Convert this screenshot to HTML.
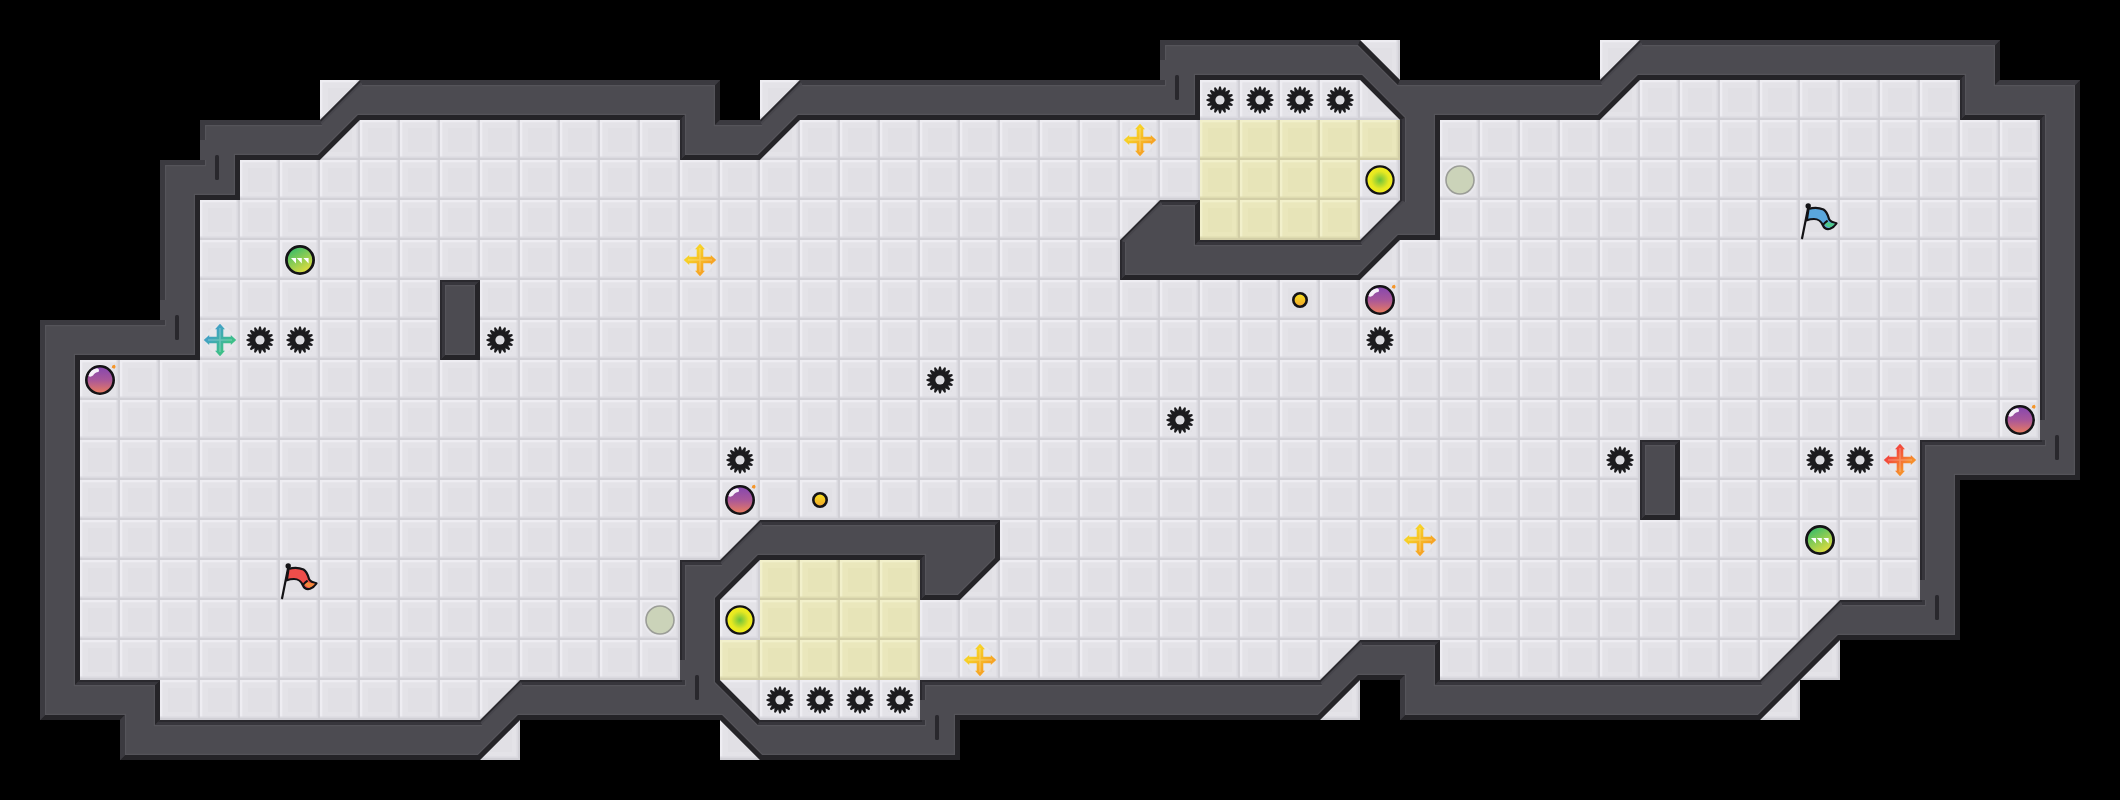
<!DOCTYPE html><html><head><meta charset="utf-8"><style>html,body{margin:0;padding:0;background:#000;overflow:hidden}svg{display:block}</style></head><body>
<svg width="2120" height="800" viewBox="0 0 2120 800">
<defs>
<pattern id="tile" patternUnits="userSpaceOnUse" x="0" y="0" width="40" height="40"><rect width="40" height="40" fill="#e1e0e5"/><rect x="3" y="3" width="34" height="34" fill="#e4e3e8"/><rect x="8" y="8" width="24" height="24" fill="#e1e0e5"/><rect x="0" y="0" width="40" height="2.5" fill="#eeedf2"/><rect x="0" y="0" width="2.5" height="40" fill="#eeedf2"/><rect x="0" y="36.5" width="40" height="1.5" fill="#dbdae0"/><rect x="36.5" y="0" width="1.5" height="40" fill="#dbdae0"/><rect x="0" y="38" width="40" height="2" fill="#d1d0d6"/><rect x="38" y="0" width="2" height="40" fill="#d1d0d6"/></pattern>
<pattern id="ytile" patternUnits="userSpaceOnUse" x="0" y="0" width="40" height="40"><rect width="40" height="40" fill="#e7e4b8"/><rect x="3" y="3" width="34" height="34" fill="#eae7bc"/><rect x="8" y="8" width="24" height="24" fill="#e7e4b8"/><rect x="0" y="0" width="40" height="2.5" fill="#f2f0cb"/><rect x="0" y="0" width="2.5" height="40" fill="#f2f0cb"/><rect x="0" y="36.5" width="40" height="1.5" fill="#dedbb0"/><rect x="36.5" y="0" width="1.5" height="40" fill="#dedbb0"/><rect x="0" y="38" width="40" height="2" fill="#d2cea6"/><rect x="38" y="0" width="2" height="40" fill="#d2cea6"/></pattern>
<clipPath id="oc"><path d="M40,320 L160,320 L160,160 L200,160 L200,120 L320,120 L360,80 L720,80 L720,120 L760,120 L800,80 L1160,80 L1160,40 L1360,40 L1400,80 L1600,80 L1640,40 L2000,40 L2000,80 L2080,80 L2080,480 L1960,480 L1960,640 L1840,640 L1760,720 L1400,720 L1400,680 L1360,680 L1320,720 L960,720 L960,760 L760,760 L720,720 L520,720 L480,760 L120,760 L120,720 L40,720Z"/></clipPath>
<linearGradient id="gb" x1="0" y1="0" x2="0" y2="1"><stop offset="0" stop-color="#8447b0"/><stop offset="0.5" stop-color="#a9579a"/><stop offset="1" stop-color="#ec7d5c"/></linearGradient>
<linearGradient id="gg" x1="0.2" y1="0" x2="0.8" y2="1"><stop offset="0" stop-color="#2fba6c"/><stop offset="1" stop-color="#f0e03a"/></linearGradient>
<radialGradient id="gt"><stop offset="0" stop-color="#6cc23c"/><stop offset="0.65" stop-color="#e6e822"/><stop offset="1" stop-color="#f4ef1c"/></radialGradient>
<linearGradient id="gc" x1="0" y1="0" x2="0" y2="1"><stop offset="0" stop-color="#f6e21c"/><stop offset="1" stop-color="#f3a52e"/></linearGradient>
<linearGradient id="at" x1="0" y1="0" x2="1" y2="1"><stop offset="0.3" stop-color="#42a2c2"/><stop offset="0.7" stop-color="#3dbf88"/></linearGradient>
<linearGradient id="ay" x1="0" y1="0" x2="1" y2="1"><stop offset="0.3" stop-color="#f7d126"/><stop offset="0.7" stop-color="#f6a526"/></linearGradient>
<linearGradient id="ao" x1="0" y1="0" x2="1" y2="1"><stop offset="0.3" stop-color="#f2493c"/><stop offset="0.7" stop-color="#f68f2c"/></linearGradient>
<path id="gear" d="M-1.91,-9.61 L-0.82,-13.58 L0.82,-13.58 L1.91,-9.61 L4.44,-12.85 L5.95,-12.23 L5.44,-8.15 L9.02,-10.18 L10.18,-9.02 L8.15,-5.44 L12.23,-5.95 L12.85,-4.44 L9.61,-1.91 L13.58,-0.82 L13.58,0.82 L9.61,1.91 L12.85,4.44 L12.23,5.95 L8.15,5.44 L10.18,9.02 L9.02,10.18 L5.44,8.15 L5.95,12.23 L4.44,12.85 L1.91,9.61 L0.82,13.58 L-0.82,13.58 L-1.91,9.61 L-4.44,12.85 L-5.95,12.23 L-5.44,8.15 L-9.02,10.18 L-10.18,9.02 L-8.15,5.44 L-12.23,5.95 L-12.85,4.44 L-9.61,1.91 L-13.58,0.82 L-13.58,-0.82 L-9.61,-1.91 L-12.85,-4.44 L-12.23,-5.95 L-8.15,-5.44 L-10.18,-9.02 L-9.02,-10.18 L-5.44,-8.15 L-5.95,-12.23 L-4.44,-12.85Z"/>
<path id="arr" d="M0,-16.2 L5,-10.8 L3.3,-10.8 L3.3,-3.3 L10.8,-3.3 L10.8,-5 L16.2,0 L10.8,5 L10.8,3.3 L3.3,3.3 L3.3,10.8 L5,10.8 L0,16.2 L-5,10.8 L-3.3,10.8 L-3.3,3.3 L-10.8,3.3 L-10.8,5 L-16.2,0 L-10.8,-5 L-10.8,-3.3 L-3.3,-3.3 L-3.3,-10.8 L-5,-10.8 Z"/>
</defs>
<rect width="2120" height="800" fill="#000"/>
<rect x="320" y="80" width="40" height="40" fill="url(#tile)"/>
<rect x="760" y="80" width="40" height="40" fill="url(#tile)"/>
<rect x="1360" y="40" width="40" height="40" fill="url(#tile)"/>
<rect x="1600" y="40" width="40" height="40" fill="url(#tile)"/>
<rect x="1800" y="640" width="40" height="40" fill="url(#tile)"/>
<rect x="1760" y="680" width="40" height="40" fill="url(#tile)"/>
<rect x="1320" y="680" width="40" height="40" fill="url(#tile)"/>
<rect x="720" y="720" width="40" height="40" fill="url(#tile)"/>
<rect x="480" y="720" width="40" height="40" fill="url(#tile)"/>
<path d="M40,320 L160,320 L160,160 L200,160 L200,120 L320,120 L360,80 L720,80 L720,120 L760,120 L800,80 L1160,80 L1160,40 L1360,40 L1400,80 L1600,80 L1640,40 L2000,40 L2000,80 L2080,80 L2080,480 L1960,480 L1960,640 L1840,640 L1760,720 L1400,720 L1400,680 L1360,680 L1320,720 L960,720 L960,760 L760,760 L720,720 L520,720 L480,760 L120,760 L120,720 L40,720Z" fill="#4c4b51"/>
<clipPath id="wc"><path d="M40,320 L160,320 L160,160 L200,160 L200,120 L320,120 L360,80 L720,80 L720,120 L760,120 L800,80 L1160,80 L1160,40 L1360,40 L1400,80 L1600,80 L1640,40 L2000,40 L2000,80 L2080,80 L2080,480 L1960,480 L1960,640 L1840,640 L1760,720 L1400,720 L1400,680 L1360,680 L1320,720 L960,720 L960,760 L760,760 L720,720 L520,720 L480,760 L120,760 L120,720 L40,720ZM80,360 L200,360 L200,200 L240,200 L240,160 L320,160 L360,120 L680,120 L680,160 L760,160 L800,120 L1200,120 L1200,80 L1360,80 L1400,120 L1400,200 L1360,240 L1200,240 L1200,200 L1160,200 L1120,240 L1120,280 L1360,280 L1400,240 L1440,240 L1440,120 L1600,120 L1640,80 L1960,80 L1960,120 L2040,120 L2040,440 L1920,440 L1920,600 L1840,600 L1760,680 L1440,680 L1440,640 L1360,640 L1320,680 L920,680 L920,720 L760,720 L720,680 L720,600 L760,560 L920,560 L920,600 L960,600 L1000,560 L1000,520 L760,520 L720,560 L680,560 L680,680 L520,680 L480,720 L160,720 L160,680 L80,680ZM440,280 h40 v80 h-40 ZM1640,440 h40 v80 h-40 Z" clip-rule="evenodd"/></clipPath>
<g clip-path="url(#wc)" stroke="none">
<path d="M40.00,320.00 L160.00,320.00 L166.20,326.20 L46.20,326.20 Z M160.00,320.00 L160.00,160.00 L166.20,166.20 L166.20,326.20 Z M160.00,160.00 L200.00,160.00 L206.20,166.20 L166.20,166.20 Z M200.00,160.00 L200.00,120.00 L206.20,126.20 L206.20,166.20 Z M200.00,120.00 L320.00,120.00 L322.57,126.20 L206.20,126.20 Z M360.00,80.00 L720.00,80.00 L713.80,86.20 L362.57,86.20 Z M720.00,80.00 L720.00,120.00 L713.80,126.20 L713.80,86.20 Z M720.00,120.00 L760.00,120.00 L762.57,126.20 L713.80,126.20 Z M800.00,80.00 L1160.00,80.00 L1166.20,86.20 L802.57,86.20 Z M1160.00,80.00 L1160.00,40.00 L1166.20,46.20 L1166.20,86.20 Z M1160.00,40.00 L1360.00,40.00 L1357.43,46.20 L1166.20,46.20 Z M1360.00,40.00 L1400.00,80.00 L1397.43,86.20 L1357.43,46.20 Z M1400.00,80.00 L1600.00,80.00 L1602.57,86.20 L1397.43,86.20 Z M1640.00,40.00 L2000.00,40.00 L1993.80,46.20 L1642.57,46.20 Z M2000.00,40.00 L2000.00,80.00 L1993.80,86.20 L1993.80,46.20 Z M2000.00,80.00 L2080.00,80.00 L2073.80,86.20 L1993.80,86.20 Z M2080.00,80.00 L2080.00,480.00 L2073.80,473.80 L2073.80,86.20 Z M2080.00,480.00 L1960.00,480.00 L1953.80,473.80 L2073.80,473.80 Z M1960.00,480.00 L1960.00,640.00 L1953.80,633.80 L1953.80,473.80 Z M1960.00,640.00 L1840.00,640.00 L1837.43,633.80 L1953.80,633.80 Z M1840.00,640.00 L1760.00,720.00 L1757.43,713.80 L1837.43,633.80 Z M1760.00,720.00 L1400.00,720.00 L1406.20,713.80 L1757.43,713.80 Z M1400.00,720.00 L1400.00,680.00 L1406.20,673.80 L1406.20,713.80 Z M1400.00,680.00 L1360.00,680.00 L1357.43,673.80 L1406.20,673.80 Z M1360.00,680.00 L1320.00,720.00 L1317.43,713.80 L1357.43,673.80 Z M1320.00,720.00 L960.00,720.00 L953.80,713.80 L1317.43,713.80 Z M960.00,720.00 L960.00,760.00 L953.80,753.80 L953.80,713.80 Z M960.00,760.00 L760.00,760.00 L762.57,753.80 L953.80,753.80 Z M760.00,760.00 L720.00,720.00 L722.57,713.80 L762.57,753.80 Z M720.00,720.00 L520.00,720.00 L517.43,713.80 L722.57,713.80 Z M520.00,720.00 L480.00,760.00 L477.43,753.80 L517.43,713.80 Z M480.00,760.00 L120.00,760.00 L126.20,753.80 L477.43,753.80 Z M120.00,760.00 L120.00,720.00 L126.20,713.80 L126.20,753.80 Z M120.00,720.00 L40.00,720.00 L46.20,713.80 L126.20,713.80 Z M40.00,720.00 L40.00,320.00 L46.20,326.20 L46.20,713.80 Z M80.00,360.00 L200.00,360.00 L193.80,353.80 L73.80,353.80 Z M200.00,360.00 L200.00,200.00 L193.80,193.80 L193.80,353.80 Z M200.00,200.00 L240.00,200.00 L233.80,193.80 L193.80,193.80 Z M240.00,200.00 L240.00,160.00 L233.80,153.80 L233.80,193.80 Z M240.00,160.00 L320.00,160.00 L317.43,153.80 L233.80,153.80 Z M320.00,160.00 L360.00,120.00 L357.43,113.80 L317.43,153.80 Z M360.00,120.00 L680.00,120.00 L686.20,113.80 L357.43,113.80 Z M680.00,120.00 L680.00,160.00 L686.20,153.80 L686.20,113.80 Z M680.00,160.00 L760.00,160.00 L757.43,153.80 L686.20,153.80 Z M760.00,160.00 L800.00,120.00 L797.43,113.80 L757.43,153.80 Z M800.00,120.00 L1200.00,120.00 L1193.80,113.80 L797.43,113.80 Z M1200.00,120.00 L1200.00,80.00 L1193.80,73.80 L1193.80,113.80 Z M1200.00,80.00 L1360.00,80.00 L1362.57,73.80 L1193.80,73.80 Z M1360.00,80.00 L1400.00,120.00 L1406.20,117.43 L1362.57,73.80 Z M1400.00,120.00 L1400.00,200.00 L1406.20,202.57 L1406.20,117.43 Z M1360.00,240.00 L1200.00,240.00 L1193.80,246.20 L1362.57,246.20 Z M1200.00,240.00 L1200.00,200.00 L1193.80,206.20 L1193.80,246.20 Z M1200.00,200.00 L1160.00,200.00 L1162.57,206.20 L1193.80,206.20 Z M1120.00,240.00 L1120.00,280.00 L1126.20,273.80 L1126.20,242.57 Z M1120.00,280.00 L1360.00,280.00 L1357.43,273.80 L1126.20,273.80 Z M1360.00,280.00 L1400.00,240.00 L1397.43,233.80 L1357.43,273.80 Z M1400.00,240.00 L1440.00,240.00 L1433.80,233.80 L1397.43,233.80 Z M1440.00,240.00 L1440.00,120.00 L1433.80,113.80 L1433.80,233.80 Z M1440.00,120.00 L1600.00,120.00 L1597.43,113.80 L1433.80,113.80 Z M1600.00,120.00 L1640.00,80.00 L1637.43,73.80 L1597.43,113.80 Z M1640.00,80.00 L1960.00,80.00 L1966.20,73.80 L1637.43,73.80 Z M1960.00,80.00 L1960.00,120.00 L1966.20,113.80 L1966.20,73.80 Z M1960.00,120.00 L2040.00,120.00 L2046.20,113.80 L1966.20,113.80 Z M2040.00,120.00 L2040.00,440.00 L2046.20,446.20 L2046.20,113.80 Z M2040.00,440.00 L1920.00,440.00 L1926.20,446.20 L2046.20,446.20 Z M1920.00,440.00 L1920.00,600.00 L1926.20,606.20 L1926.20,446.20 Z M1920.00,600.00 L1840.00,600.00 L1842.57,606.20 L1926.20,606.20 Z M1760.00,680.00 L1440.00,680.00 L1433.80,686.20 L1762.57,686.20 Z M1440.00,680.00 L1440.00,640.00 L1433.80,646.20 L1433.80,686.20 Z M1440.00,640.00 L1360.00,640.00 L1362.57,646.20 L1433.80,646.20 Z M1320.00,680.00 L920.00,680.00 L926.20,686.20 L1322.57,686.20 Z M920.00,680.00 L920.00,720.00 L926.20,726.20 L926.20,686.20 Z M920.00,720.00 L760.00,720.00 L757.43,726.20 L926.20,726.20 Z M760.00,720.00 L720.00,680.00 L713.80,682.57 L757.43,726.20 Z M720.00,680.00 L720.00,600.00 L713.80,597.43 L713.80,682.57 Z M720.00,600.00 L760.00,560.00 L757.43,553.80 L713.80,597.43 Z M760.00,560.00 L920.00,560.00 L926.20,553.80 L757.43,553.80 Z M920.00,560.00 L920.00,600.00 L926.20,593.80 L926.20,553.80 Z M920.00,600.00 L960.00,600.00 L957.43,593.80 L926.20,593.80 Z M960.00,600.00 L1000.00,560.00 L993.80,557.43 L957.43,593.80 Z M1000.00,560.00 L1000.00,520.00 L993.80,526.20 L993.80,557.43 Z M1000.00,520.00 L760.00,520.00 L762.57,526.20 L993.80,526.20 Z M720.00,560.00 L680.00,560.00 L686.20,566.20 L722.57,566.20 Z M680.00,560.00 L680.00,680.00 L686.20,686.20 L686.20,566.20 Z M680.00,680.00 L520.00,680.00 L522.57,686.20 L686.20,686.20 Z M480.00,720.00 L160.00,720.00 L153.80,726.20 L482.57,726.20 Z M160.00,720.00 L160.00,680.00 L153.80,686.20 L153.80,726.20 Z M160.00,680.00 L80.00,680.00 L73.80,686.20 L153.80,686.20 Z M80.00,680.00 L80.00,360.00 L73.80,353.80 L73.80,686.20 Z M440.00,280.00 L480.00,280.00 L473.80,286.20 L446.20,286.20 Z M480.00,280.00 L480.00,360.00 L473.80,353.80 L473.80,286.20 Z M480.00,360.00 L440.00,360.00 L446.20,353.80 L473.80,353.80 Z M440.00,360.00 L440.00,280.00 L446.20,286.20 L446.20,353.80 Z M1640.00,440.00 L1680.00,440.00 L1673.80,446.20 L1646.20,446.20 Z M1680.00,440.00 L1680.00,520.00 L1673.80,513.80 L1673.80,446.20 Z M1680.00,520.00 L1640.00,520.00 L1646.20,513.80 L1673.80,513.80 Z M1640.00,520.00 L1640.00,440.00 L1646.20,446.20 L1646.20,513.80 Z" fill="#55545a"/>
<path d="M40.00,320.00 L160.00,320.00 L165.00,325.00 L45.00,325.00 Z M160.00,320.00 L160.00,160.00 L165.00,165.00 L165.00,325.00 Z M160.00,160.00 L200.00,160.00 L205.00,165.00 L165.00,165.00 Z M200.00,160.00 L200.00,120.00 L205.00,125.00 L205.00,165.00 Z M200.00,120.00 L320.00,120.00 L322.07,125.00 L205.00,125.00 Z M360.00,80.00 L720.00,80.00 L715.00,85.00 L362.07,85.00 Z M720.00,120.00 L760.00,120.00 L762.07,125.00 L715.00,125.00 Z M800.00,80.00 L1160.00,80.00 L1165.00,85.00 L802.07,85.00 Z M1160.00,80.00 L1160.00,40.00 L1165.00,45.00 L1165.00,85.00 Z M1160.00,40.00 L1360.00,40.00 L1357.93,45.00 L1165.00,45.00 Z M1400.00,80.00 L1600.00,80.00 L1602.07,85.00 L1397.93,85.00 Z M1640.00,40.00 L2000.00,40.00 L1995.00,45.00 L1642.07,45.00 Z M2000.00,80.00 L2080.00,80.00 L2075.00,85.00 L1995.00,85.00 Z M1400.00,720.00 L1400.00,680.00 L1405.00,675.00 L1405.00,715.00 Z M120.00,760.00 L120.00,720.00 L125.00,715.00 L125.00,755.00 Z M40.00,720.00 L40.00,320.00 L45.00,325.00 L45.00,715.00 Z" fill="#3b3a40"/>
<path d="M680.00,120.00 L680.00,160.00 L685.00,155.00 L685.00,115.00 Z M1400.00,120.00 L1400.00,200.00 L1405.00,202.07 L1405.00,117.93 Z M1360.00,240.00 L1200.00,240.00 L1195.00,245.00 L1362.07,245.00 Z M1200.00,200.00 L1160.00,200.00 L1162.07,205.00 L1195.00,205.00 Z M1120.00,240.00 L1120.00,280.00 L1125.00,275.00 L1125.00,242.07 Z M1960.00,80.00 L1960.00,120.00 L1965.00,115.00 L1965.00,75.00 Z M2040.00,120.00 L2040.00,440.00 L2045.00,445.00 L2045.00,115.00 Z M2040.00,440.00 L1920.00,440.00 L1925.00,445.00 L2045.00,445.00 Z M1920.00,440.00 L1920.00,600.00 L1925.00,605.00 L1925.00,445.00 Z M1920.00,600.00 L1840.00,600.00 L1842.07,605.00 L1925.00,605.00 Z M1760.00,680.00 L1440.00,680.00 L1435.00,685.00 L1762.07,685.00 Z M1440.00,640.00 L1360.00,640.00 L1362.07,645.00 L1435.00,645.00 Z M1320.00,680.00 L920.00,680.00 L925.00,685.00 L1322.07,685.00 Z M920.00,680.00 L920.00,720.00 L925.00,725.00 L925.00,685.00 Z M920.00,720.00 L760.00,720.00 L757.93,725.00 L925.00,725.00 Z M920.00,560.00 L920.00,600.00 L925.00,595.00 L925.00,555.00 Z M1000.00,520.00 L760.00,520.00 L762.07,525.00 L995.00,525.00 Z M720.00,560.00 L680.00,560.00 L685.00,565.00 L722.07,565.00 Z M680.00,560.00 L680.00,680.00 L685.00,685.00 L685.00,565.00 Z M680.00,680.00 L520.00,680.00 L522.07,685.00 L685.00,685.00 Z M480.00,720.00 L160.00,720.00 L155.00,725.00 L482.07,725.00 Z M160.00,680.00 L80.00,680.00 L75.00,685.00 L155.00,685.00 Z M440.00,280.00 L480.00,280.00 L475.00,285.00 L445.00,285.00 Z M440.00,360.00 L440.00,280.00 L445.00,285.00 L445.00,355.00 Z M1640.00,440.00 L1680.00,440.00 L1675.00,445.00 L1645.00,445.00 Z M1640.00,520.00 L1640.00,440.00 L1645.00,445.00 L1645.00,515.00 Z" fill="#37363c"/>
<path d="M320.00,120.00 L360.00,80.00 L361.66,84.00 L321.66,124.00 Z M760.00,120.00 L800.00,80.00 L801.66,84.00 L761.66,124.00 Z M1600.00,80.00 L1640.00,40.00 L1641.66,44.00 L1601.66,84.00 Z M1400.00,200.00 L1360.00,240.00 L1361.66,244.00 L1404.00,201.66 Z M1160.00,200.00 L1120.00,240.00 L1124.00,241.66 L1161.66,204.00 Z M1840.00,600.00 L1760.00,680.00 L1761.66,684.00 L1841.66,604.00 Z M1360.00,640.00 L1320.00,680.00 L1321.66,684.00 L1361.66,644.00 Z M760.00,520.00 L720.00,560.00 L721.66,564.00 L761.66,524.00 Z M520.00,680.00 L480.00,720.00 L481.66,724.00 L521.66,684.00 Z" fill="#46454b"/>
<path d="M320.00,120.00 L360.00,80.00 L360.83,82.00 L320.83,122.00 Z M760.00,120.00 L800.00,80.00 L800.83,82.00 L760.83,122.00 Z M1600.00,80.00 L1640.00,40.00 L1640.83,42.00 L1600.83,82.00 Z M680.00,120.00 L680.00,160.00 L682.00,158.00 L682.00,118.00 Z M1400.00,120.00 L1400.00,200.00 L1402.00,200.83 L1402.00,119.17 Z M1400.00,200.00 L1360.00,240.00 L1360.83,242.00 L1402.00,200.83 Z M1360.00,240.00 L1200.00,240.00 L1198.00,242.00 L1360.83,242.00 Z M1200.00,200.00 L1160.00,200.00 L1160.83,202.00 L1198.00,202.00 Z M1160.00,200.00 L1120.00,240.00 L1122.00,240.83 L1160.83,202.00 Z M1120.00,240.00 L1120.00,280.00 L1122.00,278.00 L1122.00,240.83 Z M1960.00,80.00 L1960.00,120.00 L1962.00,118.00 L1962.00,78.00 Z M2040.00,120.00 L2040.00,440.00 L2042.00,442.00 L2042.00,118.00 Z M2040.00,440.00 L1920.00,440.00 L1922.00,442.00 L2042.00,442.00 Z M1920.00,440.00 L1920.00,600.00 L1922.00,602.00 L1922.00,442.00 Z M1920.00,600.00 L1840.00,600.00 L1840.83,602.00 L1922.00,602.00 Z M1840.00,600.00 L1760.00,680.00 L1760.83,682.00 L1840.83,602.00 Z M1760.00,680.00 L1440.00,680.00 L1438.00,682.00 L1760.83,682.00 Z M1440.00,640.00 L1360.00,640.00 L1360.83,642.00 L1438.00,642.00 Z M1360.00,640.00 L1320.00,680.00 L1320.83,682.00 L1360.83,642.00 Z M1320.00,680.00 L920.00,680.00 L922.00,682.00 L1320.83,682.00 Z M920.00,680.00 L920.00,720.00 L922.00,722.00 L922.00,682.00 Z M920.00,720.00 L760.00,720.00 L759.17,722.00 L922.00,722.00 Z M920.00,560.00 L920.00,600.00 L922.00,598.00 L922.00,558.00 Z M1000.00,520.00 L760.00,520.00 L760.83,522.00 L998.00,522.00 Z M760.00,520.00 L720.00,560.00 L720.83,562.00 L760.83,522.00 Z M720.00,560.00 L680.00,560.00 L682.00,562.00 L720.83,562.00 Z M680.00,560.00 L680.00,680.00 L682.00,682.00 L682.00,562.00 Z M680.00,680.00 L520.00,680.00 L520.83,682.00 L682.00,682.00 Z M520.00,680.00 L480.00,720.00 L480.83,722.00 L520.83,682.00 Z M480.00,720.00 L160.00,720.00 L158.00,722.00 L480.83,722.00 Z M160.00,680.00 L80.00,680.00 L78.00,682.00 L158.00,682.00 Z M440.00,280.00 L480.00,280.00 L478.00,282.00 L442.00,282.00 Z M440.00,360.00 L440.00,280.00 L442.00,282.00 L442.00,358.00 Z M1640.00,440.00 L1680.00,440.00 L1678.00,442.00 L1642.00,442.00 Z M1640.00,520.00 L1640.00,440.00 L1642.00,442.00 L1642.00,518.00 Z" fill="#2a292e"/>
<path d="M720.00,80.00 L720.00,120.00 L715.00,125.00 L715.00,85.00 Z M1360.00,40.00 L1400.00,80.00 L1397.93,85.00 L1357.93,45.00 Z M2000.00,40.00 L2000.00,80.00 L1995.00,85.00 L1995.00,45.00 Z M2080.00,80.00 L2080.00,480.00 L2075.00,475.00 L2075.00,85.00 Z M2080.00,480.00 L1960.00,480.00 L1955.00,475.00 L2075.00,475.00 Z M1960.00,480.00 L1960.00,640.00 L1955.00,635.00 L1955.00,475.00 Z M1960.00,640.00 L1840.00,640.00 L1837.93,635.00 L1955.00,635.00 Z M1840.00,640.00 L1760.00,720.00 L1757.93,715.00 L1837.93,635.00 Z M1760.00,720.00 L1400.00,720.00 L1405.00,715.00 L1757.93,715.00 Z M1400.00,680.00 L1360.00,680.00 L1357.93,675.00 L1405.00,675.00 Z M1360.00,680.00 L1320.00,720.00 L1317.93,715.00 L1357.93,675.00 Z M1320.00,720.00 L960.00,720.00 L955.00,715.00 L1317.93,715.00 Z M960.00,720.00 L960.00,760.00 L955.00,755.00 L955.00,715.00 Z M960.00,760.00 L760.00,760.00 L762.07,755.00 L955.00,755.00 Z M760.00,760.00 L720.00,720.00 L722.07,715.00 L762.07,755.00 Z M720.00,720.00 L520.00,720.00 L517.93,715.00 L722.07,715.00 Z M520.00,720.00 L480.00,760.00 L477.93,755.00 L517.93,715.00 Z M480.00,760.00 L120.00,760.00 L125.00,755.00 L477.93,755.00 Z M120.00,720.00 L40.00,720.00 L45.00,715.00 L125.00,715.00 Z M80.00,360.00 L200.00,360.00 L195.00,355.00 L75.00,355.00 Z M200.00,360.00 L200.00,200.00 L195.00,195.00 L195.00,355.00 Z M200.00,200.00 L240.00,200.00 L235.00,195.00 L195.00,195.00 Z M240.00,200.00 L240.00,160.00 L235.00,155.00 L235.00,195.00 Z M240.00,160.00 L320.00,160.00 L317.93,155.00 L235.00,155.00 Z M320.00,160.00 L360.00,120.00 L357.93,115.00 L317.93,155.00 Z M360.00,120.00 L680.00,120.00 L685.00,115.00 L357.93,115.00 Z M680.00,160.00 L760.00,160.00 L757.93,155.00 L685.00,155.00 Z M760.00,160.00 L800.00,120.00 L797.93,115.00 L757.93,155.00 Z M800.00,120.00 L1200.00,120.00 L1195.00,115.00 L797.93,115.00 Z M1200.00,120.00 L1200.00,80.00 L1195.00,75.00 L1195.00,115.00 Z M1200.00,80.00 L1360.00,80.00 L1362.07,75.00 L1195.00,75.00 Z M1360.00,80.00 L1400.00,120.00 L1405.00,117.93 L1362.07,75.00 Z M1200.00,240.00 L1200.00,200.00 L1195.00,205.00 L1195.00,245.00 Z M1120.00,280.00 L1360.00,280.00 L1357.93,275.00 L1125.00,275.00 Z M1360.00,280.00 L1400.00,240.00 L1397.93,235.00 L1357.93,275.00 Z M1400.00,240.00 L1440.00,240.00 L1435.00,235.00 L1397.93,235.00 Z M1440.00,240.00 L1440.00,120.00 L1435.00,115.00 L1435.00,235.00 Z M1440.00,120.00 L1600.00,120.00 L1597.93,115.00 L1435.00,115.00 Z M1600.00,120.00 L1640.00,80.00 L1637.93,75.00 L1597.93,115.00 Z M1640.00,80.00 L1960.00,80.00 L1965.00,75.00 L1637.93,75.00 Z M1960.00,120.00 L2040.00,120.00 L2045.00,115.00 L1965.00,115.00 Z M1440.00,680.00 L1440.00,640.00 L1435.00,645.00 L1435.00,685.00 Z M760.00,720.00 L720.00,680.00 L715.00,682.07 L757.93,725.00 Z M720.00,680.00 L720.00,600.00 L715.00,597.93 L715.00,682.07 Z M720.00,600.00 L760.00,560.00 L757.93,555.00 L715.00,597.93 Z M760.00,560.00 L920.00,560.00 L925.00,555.00 L757.93,555.00 Z M920.00,600.00 L960.00,600.00 L957.93,595.00 L925.00,595.00 Z M960.00,600.00 L1000.00,560.00 L995.00,557.93 L957.93,595.00 Z M1000.00,560.00 L1000.00,520.00 L995.00,525.00 L995.00,557.93 Z M160.00,720.00 L160.00,680.00 L155.00,685.00 L155.00,725.00 Z M80.00,680.00 L80.00,360.00 L75.00,355.00 L75.00,685.00 Z M480.00,280.00 L480.00,360.00 L475.00,355.00 L475.00,285.00 Z M480.00,360.00 L440.00,360.00 L445.00,355.00 L475.00,355.00 Z M1680.00,440.00 L1680.00,520.00 L1675.00,515.00 L1675.00,445.00 Z M1680.00,520.00 L1640.00,520.00 L1645.00,515.00 L1675.00,515.00 Z" fill="#252428"/>
<rect x="200" y="140" width="6.5" height="20" fill="#4c4b51"/>
<rect x="160" y="300" width="6.5" height="20" fill="#4c4b51"/>
<rect x="680" y="660" width="6.5" height="20" fill="#4c4b51"/>
<rect x="920" y="700" width="6.5" height="20" fill="#4c4b51"/>
<rect x="1160" y="60" width="6.5" height="20" fill="#4c4b51"/>
<rect x="2040" y="420" width="6.5" height="20" fill="#4c4b51"/>
<rect x="1920" y="580" width="6.5" height="20" fill="#4c4b51"/>
</g>
<path d="M80,360 L200,360 L200,200 L240,200 L240,160 L320,160 L360,120 L680,120 L680,160 L760,160 L800,120 L1200,120 L1200,80 L1360,80 L1400,120 L1400,200 L1360,240 L1200,240 L1200,200 L1160,200 L1120,240 L1120,280 L1360,280 L1400,240 L1440,240 L1440,120 L1600,120 L1640,80 L1960,80 L1960,120 L2040,120 L2040,440 L1920,440 L1920,600 L1840,600 L1760,680 L1440,680 L1440,640 L1360,640 L1320,680 L920,680 L920,720 L760,720 L720,680 L720,600 L760,560 L920,560 L920,600 L960,600 L1000,560 L1000,520 L760,520 L720,560 L680,560 L680,680 L520,680 L480,720 L160,720 L160,680 L80,680ZM440,280 h40 v80 h-40 ZM1640,440 h40 v80 h-40 Z" fill="url(#tile)" fill-rule="evenodd"/>
<rect x="1200" y="120" width="200" height="40" fill="url(#ytile)"/>
<rect x="1200" y="160" width="160" height="80" fill="url(#ytile)"/>
<rect x="760" y="560" width="160" height="80" fill="url(#ytile)"/>
<rect x="720" y="640" width="200" height="40" fill="url(#ytile)"/>
<rect x="215" y="155" width="4" height="25" rx="1.5" fill="#29282d"/>
<rect x="175" y="315" width="4" height="25" rx="1.5" fill="#29282d"/>
<rect x="695" y="675" width="4" height="25" rx="1.5" fill="#29282d"/>
<rect x="935" y="715" width="4" height="25" rx="1.5" fill="#29282d"/>
<rect x="1175" y="75" width="4" height="25" rx="1.5" fill="#29282d"/>
<rect x="2055" y="435" width="4" height="25" rx="1.5" fill="#29282d"/>
<rect x="1935" y="595" width="4" height="25" rx="1.5" fill="#29282d"/>
<g transform="translate(260,340)"><circle r="15" fill="#f4f4f7" opacity="0.35"/><use href="#gear" fill="#1c1b1e"/><circle r="4.6" fill="#dddce1"/></g>
<g transform="translate(300,340)"><circle r="15" fill="#f4f4f7" opacity="0.35"/><use href="#gear" fill="#1c1b1e"/><circle r="4.6" fill="#dddce1"/></g>
<g transform="translate(500,340)"><circle r="15" fill="#f4f4f7" opacity="0.35"/><use href="#gear" fill="#1c1b1e"/><circle r="4.6" fill="#dddce1"/></g>
<g transform="translate(940,380)"><circle r="15" fill="#f4f4f7" opacity="0.35"/><use href="#gear" fill="#1c1b1e"/><circle r="4.6" fill="#dddce1"/></g>
<g transform="translate(740,460)"><circle r="15" fill="#f4f4f7" opacity="0.35"/><use href="#gear" fill="#1c1b1e"/><circle r="4.6" fill="#dddce1"/></g>
<g transform="translate(1180,420)"><circle r="15" fill="#f4f4f7" opacity="0.35"/><use href="#gear" fill="#1c1b1e"/><circle r="4.6" fill="#dddce1"/></g>
<g transform="translate(1380,340)"><circle r="15" fill="#f4f4f7" opacity="0.35"/><use href="#gear" fill="#1c1b1e"/><circle r="4.6" fill="#dddce1"/></g>
<g transform="translate(1220,100)"><circle r="15" fill="#f4f4f7" opacity="0.35"/><use href="#gear" fill="#1c1b1e"/><circle r="4.6" fill="#dddce1"/></g>
<g transform="translate(1260,100)"><circle r="15" fill="#f4f4f7" opacity="0.35"/><use href="#gear" fill="#1c1b1e"/><circle r="4.6" fill="#dddce1"/></g>
<g transform="translate(1300,100)"><circle r="15" fill="#f4f4f7" opacity="0.35"/><use href="#gear" fill="#1c1b1e"/><circle r="4.6" fill="#dddce1"/></g>
<g transform="translate(1340,100)"><circle r="15" fill="#f4f4f7" opacity="0.35"/><use href="#gear" fill="#1c1b1e"/><circle r="4.6" fill="#dddce1"/></g>
<g transform="translate(780,700)"><circle r="15" fill="#f4f4f7" opacity="0.35"/><use href="#gear" fill="#1c1b1e"/><circle r="4.6" fill="#dddce1"/></g>
<g transform="translate(820,700)"><circle r="15" fill="#f4f4f7" opacity="0.35"/><use href="#gear" fill="#1c1b1e"/><circle r="4.6" fill="#dddce1"/></g>
<g transform="translate(860,700)"><circle r="15" fill="#f4f4f7" opacity="0.35"/><use href="#gear" fill="#1c1b1e"/><circle r="4.6" fill="#dddce1"/></g>
<g transform="translate(900,700)"><circle r="15" fill="#f4f4f7" opacity="0.35"/><use href="#gear" fill="#1c1b1e"/><circle r="4.6" fill="#dddce1"/></g>
<g transform="translate(1620,460)"><circle r="15" fill="#f4f4f7" opacity="0.35"/><use href="#gear" fill="#1c1b1e"/><circle r="4.6" fill="#dddce1"/></g>
<g transform="translate(1820,460)"><circle r="15" fill="#f4f4f7" opacity="0.35"/><use href="#gear" fill="#1c1b1e"/><circle r="4.6" fill="#dddce1"/></g>
<g transform="translate(1860,460)"><circle r="15" fill="#f4f4f7" opacity="0.35"/><use href="#gear" fill="#1c1b1e"/><circle r="4.6" fill="#dddce1"/></g>
<g transform="translate(100,380)"><circle r="16" fill="#f4f4f7" opacity="0.3"/><circle r="13.7" fill="url(#gb)" stroke="#141316" stroke-width="2.6"/><path d="M-11.5,-4 Q-10,-10.5 -3,-11.8 Q0,-11 -1.5,-8 Q-5,-8 -7,-4.5 Q-9.5,-2.5 -11.5,-4Z" fill="#fff" opacity="0.92"/><path d="M11.5,-12.5 L14.8,-15.5 L15,-11.5Z" fill="#f5962a"/><circle cx="13.8" cy="-13.2" r="1.8" fill="#f5962a"/></g>
<g transform="translate(740,500)"><circle r="16" fill="#f4f4f7" opacity="0.3"/><circle r="13.7" fill="url(#gb)" stroke="#141316" stroke-width="2.6"/><path d="M-11.5,-4 Q-10,-10.5 -3,-11.8 Q0,-11 -1.5,-8 Q-5,-8 -7,-4.5 Q-9.5,-2.5 -11.5,-4Z" fill="#fff" opacity="0.92"/><path d="M11.5,-12.5 L14.8,-15.5 L15,-11.5Z" fill="#f5962a"/><circle cx="13.8" cy="-13.2" r="1.8" fill="#f5962a"/></g>
<g transform="translate(1380,300)"><circle r="16" fill="#f4f4f7" opacity="0.3"/><circle r="13.7" fill="url(#gb)" stroke="#141316" stroke-width="2.6"/><path d="M-11.5,-4 Q-10,-10.5 -3,-11.8 Q0,-11 -1.5,-8 Q-5,-8 -7,-4.5 Q-9.5,-2.5 -11.5,-4Z" fill="#fff" opacity="0.92"/><path d="M11.5,-12.5 L14.8,-15.5 L15,-11.5Z" fill="#f5962a"/><circle cx="13.8" cy="-13.2" r="1.8" fill="#f5962a"/></g>
<g transform="translate(2020,420)"><circle r="16" fill="#f4f4f7" opacity="0.3"/><circle r="13.7" fill="url(#gb)" stroke="#141316" stroke-width="2.6"/><path d="M-11.5,-4 Q-10,-10.5 -3,-11.8 Q0,-11 -1.5,-8 Q-5,-8 -7,-4.5 Q-9.5,-2.5 -11.5,-4Z" fill="#fff" opacity="0.92"/><path d="M11.5,-12.5 L14.8,-15.5 L15,-11.5Z" fill="#f5962a"/><circle cx="13.8" cy="-13.2" r="1.8" fill="#f5962a"/></g>
<g transform="translate(300,260)"><circle r="16" fill="#f4f4f7" opacity="0.3"/><circle r="13.6" fill="url(#gg)" stroke="#141316" stroke-width="2.8"/><path d="M-9,-2 L-4,-2 L-4,3.5Z M-3.3,-2 L1.8,-2 L1.8,3.5Z M3.4,-2 L8.6,-2 L8.6,3.5Z" fill="#fff"/></g>
<g transform="translate(1820,540)"><circle r="16" fill="#f4f4f7" opacity="0.3"/><circle r="13.6" fill="url(#gg)" stroke="#141316" stroke-width="2.8"/><path d="M-9,-2 L-4,-2 L-4,3.5Z M-3.3,-2 L1.8,-2 L1.8,3.5Z M3.4,-2 L8.6,-2 L8.6,3.5Z" fill="#fff"/></g>
<g transform="translate(220,340)"><circle r="14" fill="#f4f4f7" opacity="0.35"/><use href="#arr" fill="url(#at)"/><path d="M0,-12 V12 M-12,0 H12" stroke="#fff" stroke-opacity="0.22" stroke-width="1.6"/></g>
<g transform="translate(700,260)"><circle r="14" fill="#f4f4f7" opacity="0.35"/><use href="#arr" fill="url(#ay)"/><path d="M0,-12 V12 M-12,0 H12" stroke="#fff" stroke-opacity="0.22" stroke-width="1.6"/></g>
<g transform="translate(1140,140)"><circle r="14" fill="#f4f4f7" opacity="0.35"/><use href="#arr" fill="url(#ay)"/><path d="M0,-12 V12 M-12,0 H12" stroke="#fff" stroke-opacity="0.22" stroke-width="1.6"/></g>
<g transform="translate(980,660)"><circle r="14" fill="#f4f4f7" opacity="0.35"/><use href="#arr" fill="url(#ay)"/><path d="M0,-12 V12 M-12,0 H12" stroke="#fff" stroke-opacity="0.22" stroke-width="1.6"/></g>
<g transform="translate(1420,540)"><circle r="14" fill="#f4f4f7" opacity="0.35"/><use href="#arr" fill="url(#ay)"/><path d="M0,-12 V12 M-12,0 H12" stroke="#fff" stroke-opacity="0.22" stroke-width="1.6"/></g>
<g transform="translate(1900,460)"><circle r="14" fill="#f4f4f7" opacity="0.35"/><use href="#arr" fill="url(#ao)"/><path d="M0,-12 V12 M-12,0 H12" stroke="#fff" stroke-opacity="0.22" stroke-width="1.6"/></g>
<g transform="translate(1380,180)"><circle r="13.6" fill="url(#gt)" stroke="#141316" stroke-width="2.2"/></g>
<g transform="translate(740,620)"><circle r="13.6" fill="url(#gt)" stroke="#141316" stroke-width="2.2"/></g>
<g transform="translate(1460,180)"><circle r="17" fill="#f0f0f4" opacity="0.4"/><circle r="14" fill="#cbd3b9" stroke="#9b9d97" stroke-width="1.6"/></g>
<g transform="translate(660,620)"><circle r="17" fill="#f0f0f4" opacity="0.4"/><circle r="14" fill="#cbd3b9" stroke="#9b9d97" stroke-width="1.6"/></g>
<g transform="translate(820,500)"><circle r="6.7" fill="url(#gc)" stroke="#141316" stroke-width="2.6"/></g>
<g transform="translate(1300,300)"><circle r="6.7" fill="url(#gc)" stroke="#141316" stroke-width="2.6"/></g>
<g transform="translate(280,560)"><path d="M8.5,9 C13,7.5 19,7.5 23.5,9.5 C27,11.5 28,15.5 29,19 C30,21 33,22.5 36.5,23.3 C35,25.5 33,27.5 30,28.8 C27,29.5 24,28 22.75,25 C21.5,22 18,19 14,19 C11,19 9,19.5 6.8,20.3 Z" fill="#ef4d4a" stroke="#141316" stroke-width="2.2" stroke-linejoin="round"/><path d="M26.5,22 C29,22.6 32,23.2 35,23.8 C33.5,25.5 31.5,27 29.5,27.6 C27.5,27.4 25.8,26.2 24.6,24.6 Z" fill="#f18a3a"/><path d="M22.9,25.2 C24,23.5 25.5,22 27.6,20.6" fill="none" stroke="#141316" stroke-width="2"/><path d="M2.1,38.2 L8.4,6.5" stroke="#141316" stroke-width="2.2" stroke-linecap="round"/><circle cx="8.2" cy="6" r="2.7" fill="#141316"/></g>
<g transform="translate(1800,200)"><path d="M8.5,9 C13,7.5 19,7.5 23.5,9.5 C27,11.5 28,15.5 29,19 C30,21 33,22.5 36.5,23.3 C35,25.5 33,27.5 30,28.8 C27,29.5 24,28 22.75,25 C21.5,22 18,19 14,19 C11,19 9,19.5 6.8,20.3 Z" fill="#5aa6dc" stroke="#141316" stroke-width="2.2" stroke-linejoin="round"/><path d="M26.5,22 C29,22.6 32,23.2 35,23.8 C33.5,25.5 31.5,27 29.5,27.6 C27.5,27.4 25.8,26.2 24.6,24.6 Z" fill="#4fc98a"/><path d="M22.9,25.2 C24,23.5 25.5,22 27.6,20.6" fill="none" stroke="#141316" stroke-width="2"/><path d="M2.1,38.2 L8.4,6.5" stroke="#141316" stroke-width="2.2" stroke-linecap="round"/><circle cx="8.2" cy="6" r="2.7" fill="#141316"/></g>
</svg></body></html>
